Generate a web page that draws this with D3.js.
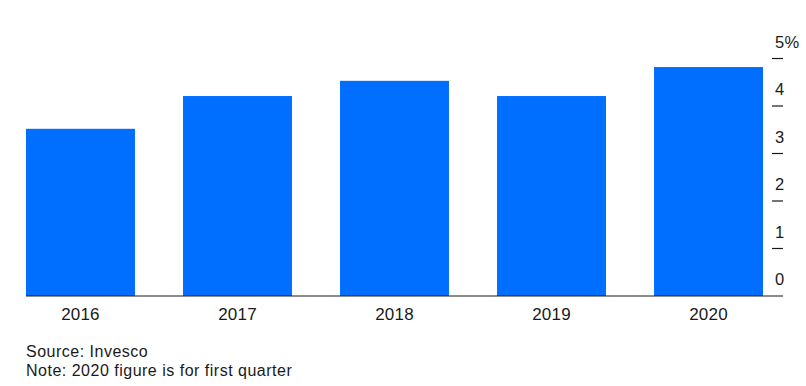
<!DOCTYPE html>
<html lang="en">
<head>
<meta charset="utf-8">
<script src="https://cdn.jsdelivr.net/npm/d3@7"></script>
<style>
  body { margin: 0; background: #fff; }
  text { font-family: "Liberation Sans", Arial, sans-serif; fill: #1a1a1a; }
</style>
</head>
<body>
<script>
var years = ["2016", "2017", "2018", "2019", "2020"];
var values = [3.52, 4.21, 4.53, 4.21, 4.82];
var yTicks = [0, 1, 2, 3, 4, 5];
var notes = ["Source: Invesco", "Note: 2020 figure is for first quarter"];

var w = 806, h = 386;
var svg = d3.select("body").append("svg").attr("width", w).attr("height", h);

var xScale = d3.scaleBand().domain(years).range([26, 763]).paddingInner(0.306).paddingOuter(0);
var yScale = d3.scaleLinear().domain([0, 5]).range([296, 58.5]);

svg.selectAll("rect.bar")
  .data(values)
  .enter()
  .append("rect")
  .attr("class", "bar")
  .attr("x", function(d, i) { return xScale(years[i]); })
  .attr("y", function(d) { return yScale(d); })
  .attr("width", xScale.bandwidth())
  .attr("height", function(d) { return yScale(0) - yScale(d); })
  .attr("fill", "#006fff");

// baseline
svg.append("line")
  .attr("x1", 26).attr("x2", 783)
  .attr("y1", yScale(0)).attr("y2", yScale(0))
  .attr("stroke", "#1a1a1a").attr("stroke-width", 1.2);

// right axis: short ticks with labels sitting above them
var yAxis = svg.append("g");
yAxis.selectAll("line.tick")
  .data(yTicks.filter(function(d) { return d > 0; }))
  .enter()
  .append("line")
  .attr("x1", 772).attr("x2", 783)
  .attr("y1", function(d) { return yScale(d); })
  .attr("y2", function(d) { return yScale(d); })
  .attr("stroke", "#1a1a1a").attr("stroke-width", 1.2);

yAxis.selectAll("text")
  .data(yTicks)
  .enter()
  .append("text")
  .attr("x", 775)
  .attr("y", function(d) { return yScale(d) - 11; })
  .attr("font-size", 16.5)
  .attr("letter-spacing", 0.3)
  .text(function(d) { return d === 5 ? d + "%" : d; });

svg.selectAll("text.year")
  .data(years)
  .enter()
  .append("text")
  .attr("class", "year")
  .attr("x", function(d) { return xScale(d) + xScale.bandwidth() / 2; })
  .attr("y", 320)
  .attr("text-anchor", "middle")
  .attr("font-size", 17)
  .attr("letter-spacing", 0.2)
  .text(function(d) { return d; });

svg.selectAll("text.note")
  .data(notes)
  .enter()
  .append("text")
  .attr("class", "note")
  .attr("x", 26)
  .attr("y", function(d, i) { return 357 + i * 19; })
  .attr("font-size", 16)
  .attr("letter-spacing", 0.5)
  .text(function(d) { return d; });
</script>
</body>
</html>
